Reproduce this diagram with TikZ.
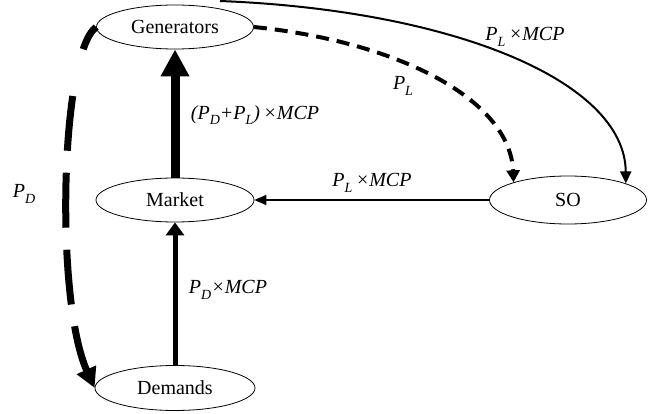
\documentclass[tikz,border=0pt]{standalone}
\usepackage{fontspec}
\setmainfont{Liberation Serif}
\usetikzlibrary{shapes.geometric,arrows.meta}
\newcommand\lsub[1]{\raisebox{-0.28em}{\fontsize{14}{14}\selectfont #1}}
\begin{document}
\begin{tikzpicture}[x=1pt,y=-1pt,
  box/.style={ellipse, draw, line width=0.8pt, inner sep=0pt, font=\fontsize{20}{24}\selectfont},
  lbl/.style={inner sep=0pt, font=\fontsize{20}{24}\selectfont\itshape}]
\useasboundingbox (0,0) rectangle (670,414);
% nodes
\node[box, minimum width=157pt, minimum height=44pt] (gen) at (175,27) {Generators};
\node[box, minimum width=158pt, minimum height=44pt] (mkt) at (175,200) {Market};
\node[box, minimum width=160pt, minimum height=45pt] (dem) at (175,388) {Demands};
\node[box, minimum width=157pt, minimum height=48pt] (so) at (568,200) {SO};
\coordinate (gs) at (220,1);
% connectors
\draw[line width=9pt, -{Triangle[length=27pt,width=27pt]}] (mkt.north) -- (gen.south);
\draw[line width=5pt, -{Triangle[length=13pt,width=18pt]}] (dem.north) -- (mkt.south);
\draw[line width=1.5pt, -{Triangle[length=12pt,width=10pt]}] (so.west) -- (mkt.east);
\draw[line width=2pt, -{Triangle[length=12pt,width=11pt]}] (gs) .. controls (450,10) and (625,80) .. (so.16);
\draw[line width=4pt, dash pattern=on 13pt off 8pt, -{Triangle[length=12pt,width=13pt]}] (gen.east) .. controls (400,42) and (510,100) .. (so.162);
\draw[line width=7pt, dash pattern=on 26pt off 48pt on 55pt off 22pt on 55pt off 22pt on 55pt off 22pt on 60pt off 10pt, -{Triangle[length=20pt,width=20pt]}] (gen.west) .. controls (60,55) and (55,300) .. (dem.west);
% labels
\node[lbl] (l1) at (525,37) {P\lsub{L}\,×MCP};
\node[lbl] (l2) at (403,86) {P\lsub{L}};
\node[lbl] (l3) at (255,115) {(P\lsub{D}+P\lsub{L})\,×MCP};
\node[lbl] (l4) at (372,183) {P\lsub{L}\,×MCP};
\node[lbl] (l5) at (24,194) {P\lsub{D}};
\node[lbl] (l6) at (228,290) {P\lsub{D}×MCP};
\end{tikzpicture}
\end{document}
